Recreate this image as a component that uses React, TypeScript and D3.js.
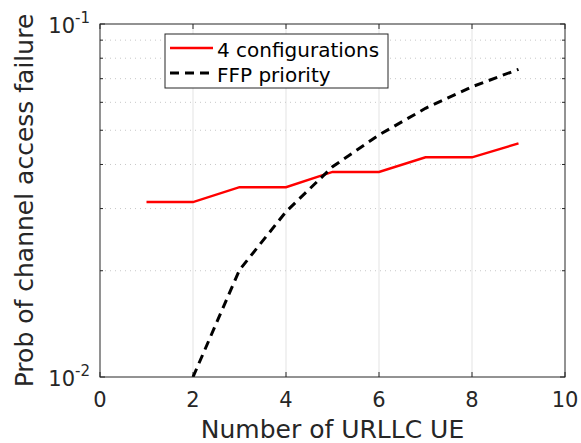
import React from "react";
import * as d3 from "d3";

const xValues = [1, 2, 3, 4, 5, 6, 7, 8, 9];
const configValues = [0.0313, 0.0313, 0.0345, 0.0345, 0.0381, 0.0381, 0.0419, 0.0419, 0.0459];
const ffpX = [2, 3, 4, 5, 6, 7, 8, 9];
const ffpValues = [0.01, 0.0201, 0.0294, 0.0394, 0.0485, 0.0577, 0.0664, 0.0744];
const xTicks = [0, 2, 4, 6, 8, 10];
const yMajor = [0.01, 0.1];
const yMinor = [0.02, 0.03, 0.04, 0.05, 0.06, 0.07, 0.08, 0.09];
const seriesNames = ["4 configurations", "FFP priority"];

const W = 581, H = 443;
const L = 100, R = 565, T = 24, B = 377;
const ink = "#262626";
const font = "DejaVu Sans, sans-serif";

export default function App() {
  const x = d3.scaleLinear().domain([0, 10]).range([L, R]);
  const y = d3.scaleLog().domain([0.01, 0.1]).range([B, T]);
  const line = d3.line<[number, number]>().x(d => x(d[0])).y(d => y(d[1]));
  const red = line(xValues.map((v, i) => [v, configValues[i]] as [number, number]));
  const black = line(ffpX.map((v, i) => [v, ffpValues[i]] as [number, number]));
  const tl = 5;
  return (
    <svg width={W} height={H} style={{ position: "absolute", left: 0, top: 0, background: "#fff" }} fontFamily={font}>
      <rect x={0} y={0} width={W} height={H} fill="#fff" />
      <defs>
        <clipPath id="plot"><rect x={L} y={T} width={R - L} height={B - T} /></clipPath>
      </defs>
      {xTicks.filter(t => t > 0 && t < 10).map(t => (
        <line key={"gx" + t} x1={x(t)} x2={x(t)} y1={T} y2={B} stroke="#e3e3e3" strokeWidth={1} />
      ))}
      {yMinor.map(t => (
        <line key={"gy" + t} x1={L} x2={R} y1={y(t)} y2={y(t)} stroke="#c8c8c8" strokeWidth={1} strokeDasharray="1,4" />
      ))}
      {xTicks.map(t => (
        <g key={"tx" + t}>
          <line x1={x(t)} x2={x(t)} y1={B} y2={B - tl} stroke={ink} />
          <line x1={x(t)} x2={x(t)} y1={T} y2={T + tl} stroke={ink} />
          <text x={x(t)} y={407} textAnchor="middle" fontSize={21} fill={ink}>{t}</text>
        </g>
      ))}
      {yMajor.concat(yMinor).map(t => (
        <g key={"ty" + t}>
          <line x1={L} x2={L + (yMajor.includes(t) ? tl : 3)} y1={y(t)} y2={y(t)} stroke={ink} />
          <line x1={R} x2={R - (yMajor.includes(t) ? tl : 3)} y1={y(t)} y2={y(t)} stroke={ink} />
        </g>
      ))}
      {yMajor.map(t => (
        <text key={"yl" + t} x={90} y={y(t) + 9} textAnchor="end" fontSize={21} fill={ink}>
          10<tspan dy={-10} fontSize={15}>{Math.round(Math.log10(t))}</tspan>
        </text>
      ))}
      <g clipPath="url(#plot)">
        <path d={red ?? ""} fill="none" stroke="#ff0000" strokeWidth={2.5} />
        <path d={black ?? ""} fill="none" stroke="#000" strokeWidth={3} strokeDasharray="9,6" />
      </g>
      <rect x={L} y={T} width={R - L} height={B - T} fill="none" stroke={ink} strokeWidth={1} />
      <rect x={165} y={34} width={223} height={54} fill="#fff" stroke={ink} strokeWidth={1} />
      <line x1={170} x2={213} y1={48} y2={48} stroke="#ff0000" strokeWidth={2.5} />
      <line x1={170} x2={213} y1={73} y2={73} stroke="#000" strokeWidth={3} strokeDasharray="9,6" />
      <text x={217} y={56.5} fontSize={20} fill="#000">{seriesNames[0]}</text>
      <text x={217} y={81.5} fontSize={20} fill="#000">{seriesNames[1]}</text>
      <text x={(L + R) / 2} y={438} textAnchor="middle" fontSize={25} fill={ink}>Number of URLLC UE</text>
      <text transform={`translate(33,${(T + B) / 2}) rotate(-90)`} textAnchor="middle" fontSize={25} fill={ink}>Prob of channel access failure</text>
    </svg>
  );
}
